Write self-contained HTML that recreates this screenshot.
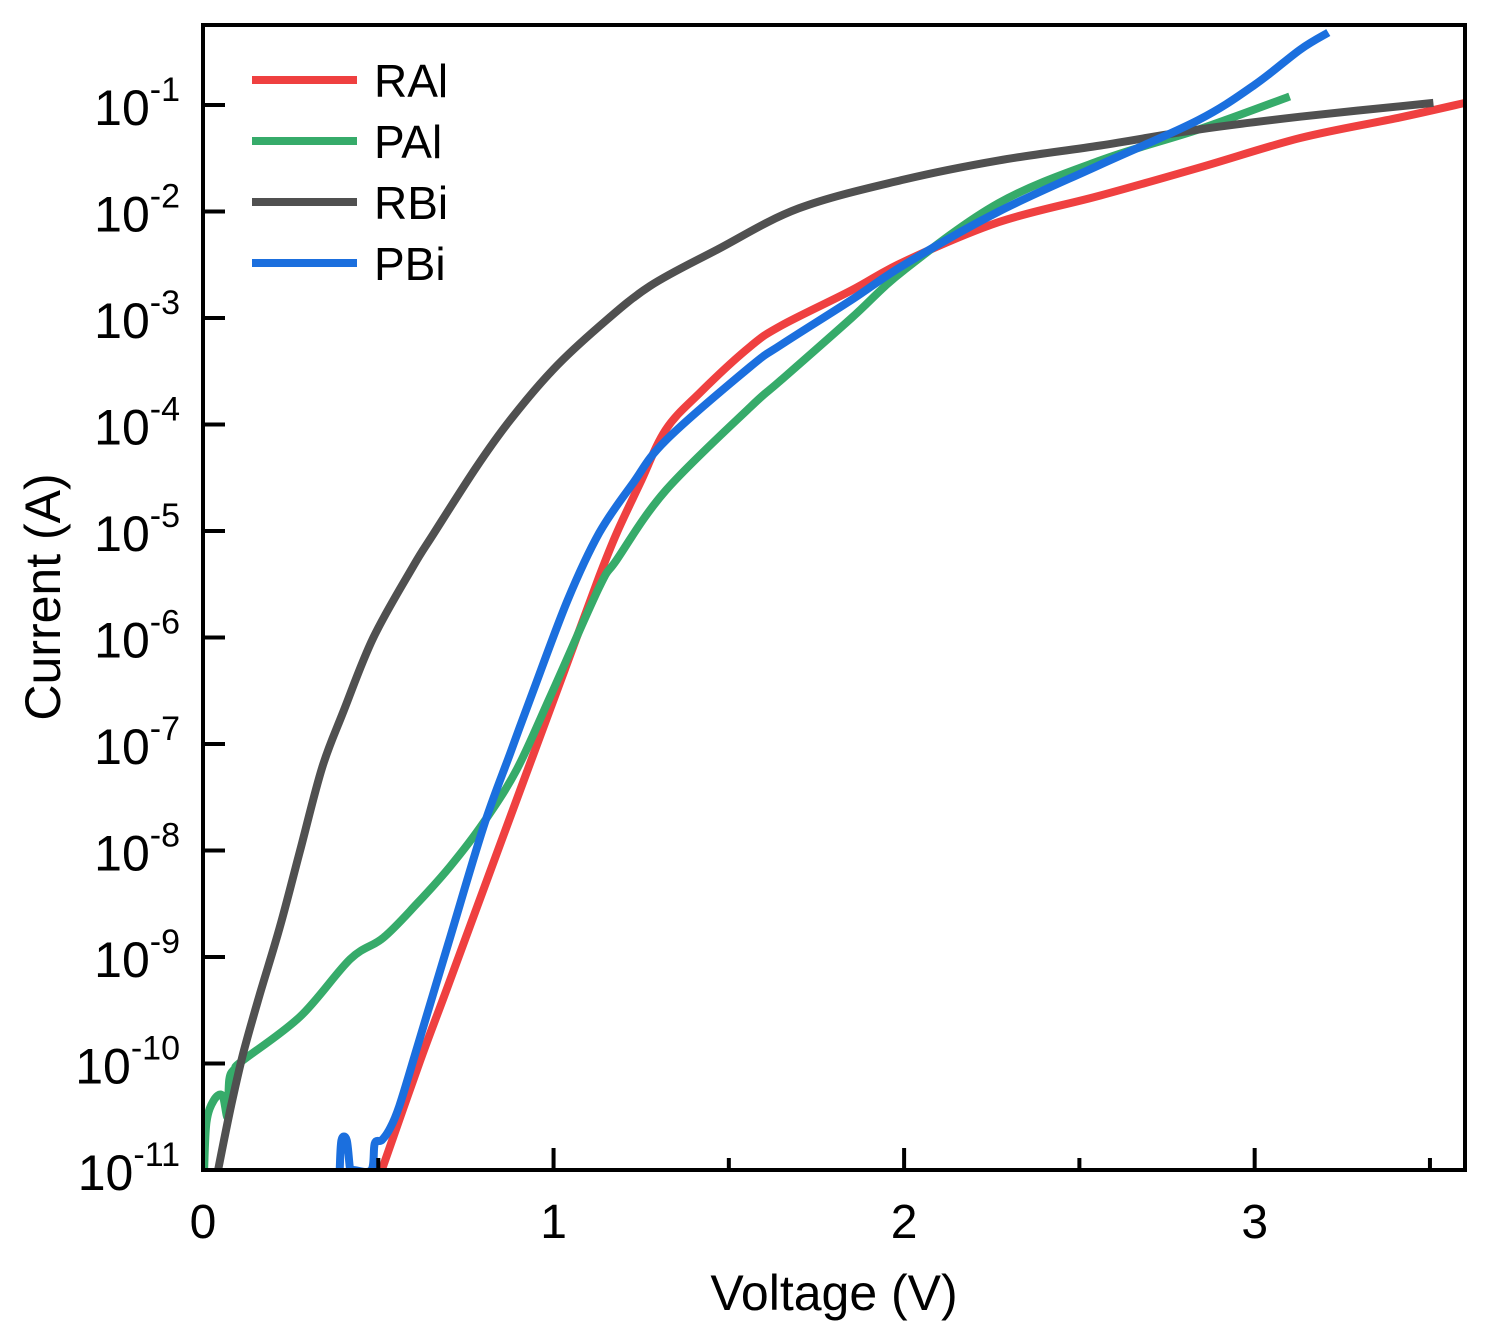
<!DOCTYPE html>
<html><head><meta charset="utf-8"><style>
body{margin:0;background:#fff;}
svg text{font-family:"Liberation Sans",Arial,sans-serif;fill:#000;}
</style></head><body>
<svg id="chart" width="1490" height="1334" viewBox="0 0 1490 1334" xmlns="http://www.w3.org/2000/svg">
<g id="series"></g>
<g id="axes"></g>
<g id="legend"></g>
<text x="834" y="1310" font-size="50" text-anchor="middle">Voltage (V)</text>
<text transform="translate(60,597) rotate(-90)" font-size="50" text-anchor="middle">Current (A)</text>
</svg>
<script>
const xTicks=[0,1,2,3];
const yTicks=[-11,-10,-9,-8,-7,-6,-5,-4,-3,-2,-1];
const seriesNames=["RAl","PAl","RBi","PBi"];
const seriesColors=["#ef4040","#36ab6a","#505050","#1b6fde"];
const rAlV=[0.51,0.62,0.70,0.85,0.94,1.03,1.13,1.18,1.247,1.32,1.418,1.56,1.65,1.85,2.0,2.27,2.56,2.84,3.13,3.41,3.6];
const rAlI=[-11,-9.97,-9.26,-7.92,-7.12,-6.32,-5.43,-5.02,-4.55,-4.05,-3.70,-3.27,-3.07,-2.74,-2.47,-2.10,-1.85,-1.59,-1.31,-1.12,-0.98];
const pAlV=[0.003,0.01,0.03,0.055,0.07,0.075,0.09,0.114,0.277,0.42,0.514,0.61,0.705,0.80,0.895,0.99,1.13,1.18,1.32,1.56,1.65,1.85,2.0,2.27,2.56,2.84,3.10];
const pAlI=[-11,-10.55,-10.35,-10.3,-10.5,-10.15,-10.05,-9.97,-9.56,-9.02,-8.82,-8.5,-8.15,-7.74,-7.24,-6.56,-5.53,-5.27,-4.62,-3.84,-3.58,-3.0,-2.55,-1.92,-1.52,-1.23,-0.92];
const rBiV=[0.043,0.08,0.115,0.163,0.22,0.277,0.34,0.40,0.486,0.6,0.657,0.78,0.876,1.0,1.13,1.275,1.466,1.70,2.0,2.27,2.56,2.84,3.13,3.51];
const rBiI=[-11,-10.4,-9.9,-9.34,-8.71,-8.0,-7.22,-6.7,-6.0,-5.33,-5.03,-4.40,-3.96,-3.48,-3.08,-2.70,-2.36,-1.97,-1.70,-1.52,-1.38,-1.23,-1.11,-0.98];
const pBiV=[0.39,0.395,0.41,0.42,0.43,0.48,0.49,0.51,0.535,0.56,0.6,0.70,0.80,0.876,0.94,1.04,1.13,1.227,1.32,1.56,1.65,1.85,2.0,2.27,2.56,2.84,3.0,3.13,3.21];
const pBiI=[-11,-10.72,-10.72,-11,-11,-11,-10.75,-10.72,-10.6,-10.4,-9.97,-8.87,-7.78,-7.09,-6.52,-5.65,-5.02,-4.55,-4.15,-3.46,-3.25,-2.83,-2.50,-2.0,-1.56,-1.14,-0.81,-0.48,-0.32];
const allV=[rAlV,pAlV,rBiV,pBiV], allI=[rAlI,pAlI,rBiI,pBiI];
const X0=203,X1=1465,Y0=1170,Y1=25,VMAX=3.6;
function x(v){return X0+(v/VMAX)*(X1-X0);}
function y(l){return Y0-(l+11)*106.5;}
const NS="http://www.w3.org/2000/svg";
const sg=document.getElementById('series');
const clip=document.createElementNS(NS,'clipPath');clip.setAttribute('id','pc');
const cr=document.createElementNS(NS,'rect');cr.setAttribute('x',X0);cr.setAttribute('y',Y1);cr.setAttribute('width',X1-X0+4);cr.setAttribute('height',Y0-Y1);
clip.appendChild(cr);sg.appendChild(clip);sg.setAttribute('clip-path','url(#pc)');
function smooth(pts){
 let d='M'+pts[0][0].toFixed(1)+','+pts[0][1].toFixed(1);
 for(let i=0;i<pts.length-1;i++){
  const p0=pts[Math.max(0,i-1)],p1=pts[i],p2=pts[i+1],p3=pts[Math.min(pts.length-1,i+2)];
  const c1=[p1[0]+(p2[0]-p0[0])/6,p1[1]+(p2[1]-p0[1])/6];
  const c2=[p2[0]-(p3[0]-p1[0])/6,p2[1]-(p3[1]-p1[1])/6];
  d+='C'+c1[0].toFixed(1)+','+c1[1].toFixed(1)+' '+c2[0].toFixed(1)+','+c2[1].toFixed(1)+' '+p2[0].toFixed(1)+','+p2[1].toFixed(1);
 }
 return d;
}
for(let s=0;s<4;s++){
 const p=document.createElementNS(NS,'path');
 const pts=allV[s].map((v,i)=>[x(v),y(allI[s][i])]);
 p.setAttribute('d',smooth(pts));p.setAttribute('fill','none');p.setAttribute('stroke',seriesColors[s]);
 p.setAttribute('stroke-width','8');p.setAttribute('stroke-linejoin','round');
 
 
 sg.appendChild(p);
}
const ag=document.getElementById('axes');
function line(x1,y1,x2,y2,w,name){const l=document.createElementNS(NS,'line');l.setAttribute('x1',x1);l.setAttribute('y1',y1);l.setAttribute('x2',x2);l.setAttribute('y2',y2);l.setAttribute('stroke','#000');l.setAttribute('stroke-width',w);


ag.appendChild(l);}
const fr=document.createElementNS(NS,'rect');fr.setAttribute('x',X0);fr.setAttribute('y',Y1);fr.setAttribute('width',X1-X0);fr.setAttribute('height',Y0-Y1);fr.setAttribute('fill','none');fr.setAttribute('stroke','#000');fr.setAttribute('stroke-width','4');


ag.appendChild(fr);
xTicks.forEach(v=>{line(x(v),Y0,x(v),Y0-22,4,'x-tick');
 const t=document.createElementNS(NS,'text');t.setAttribute('x',x(v));t.setAttribute('y',1238);t.setAttribute('font-size','48');t.setAttribute('text-anchor','middle');t.textContent=v;
 
 
 ag.appendChild(t);
 if(v+0.5<VMAX) line(x(v+0.5),Y0,x(v+0.5),Y0-12,4,'x-minor-tick');});
yTicks.forEach(l=>{line(X0,y(l),X0+22,y(l),4,'y-tick');
 const t=document.createElementNS(NS,'text');t.setAttribute('x',180);t.setAttribute('y',y(l)+20);t.setAttribute('font-size','50');t.setAttribute('text-anchor','end');
 t.innerHTML='10<tspan dy="-24" font-size="34">'+l+'</tspan>';
 
 
 ag.appendChild(t);});
const lg=document.getElementById('legend');
seriesNames.forEach((n,i)=>{const yy=80+i*61;
 const l=document.createElementNS(NS,'line');l.setAttribute('x1',252);l.setAttribute('x2',357);l.setAttribute('y1',yy);l.setAttribute('y2',yy);l.setAttribute('stroke',seriesColors[i]);l.setAttribute('stroke-width','8');
 
 
 lg.appendChild(l);
 const t=document.createElementNS(NS,'text');t.setAttribute('x',374);t.setAttribute('y',yy+17);t.setAttribute('font-size','46');t.textContent=n;
 
 
 lg.appendChild(t);});
</script>
</body></html>
